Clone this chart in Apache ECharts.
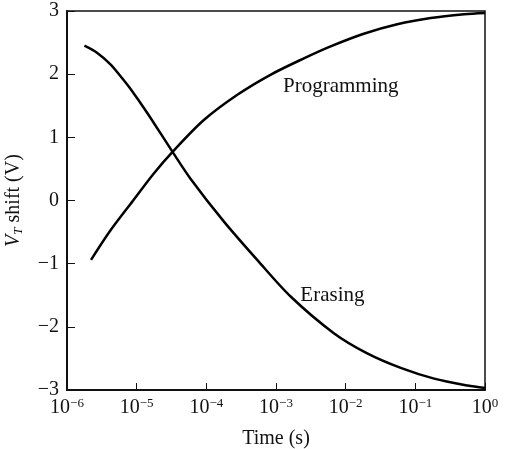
<!DOCTYPE html>
<html>
<head>
<meta charset="utf-8">
<script src="https://cdn.jsdelivr.net/npm/echarts@6/dist/echarts.min.js"></script>
<style>
  html, body { margin: 0; padding: 0; background: #fff; }
  #chart { width: 512px; height: 449px; }
</style>
</head>
<body>
<div id="chart"></div>
<script>
const progLogT = [-5.655, -5.38, -5.05, -4.76, -4.485, -4.04, -3.56, -3.08, -2.60, -2.216, -1.74, -1.26, -0.78, -0.30, 0];
const progV    = [-0.94, -0.48, 0.0, 0.42, 0.77, 1.27, 1.67, 1.99, 2.25, 2.44, 2.64, 2.79, 2.89, 2.95, 2.97];
const eraseLogT = [-5.75, -5.57, -5.38, -5.24, -5.09, -4.85, -4.485, -4.23, -3.75, -3.27, -2.79, -2.17, -1.69, -1.21, -0.73, -0.25, 0];
const eraseV    = [2.45, 2.34, 2.16, 1.98, 1.77, 1.39, 0.77, 0.35, -0.33, -0.94, -1.52, -2.10, -2.42, -2.65, -2.82, -2.93, -2.97];
const yTicks = [-3, -2, -1, 0, 1, 2, 3];
const curveLabels = [
  { text: 'Programming', logT: -2.07, v: 1.8 },
  { text: 'Erasing', logT: -2.19, v: -1.51 }
];

const FONT = '"Liberation Serif", "DejaVu Serif", serif';

function pairs(logT, v){
  return logT.map((t, i) => [Math.pow(10, t), v[i]]);
}

function minus(s){
  return String(s).replace('-', '\u2212');
}

const chart = echarts.init(document.getElementById('chart'), null, { renderer: 'canvas' });

chart.setOption({
  animation: false,
  backgroundColor: '#fff',
  grid: {
    left: 67, right: 27, top: 11, bottom: 59,
    outerBoundsMode: 'none',
    containLabel: false,
    show: true, borderColor: '#111', borderWidth: 1.5, backgroundColor: 'transparent'
  },
  xAxis: {
    type: 'log',
    logBase: 10,
    min: 1e-6,
    max: 1,
    name: 'Time (s)',
    nameLocation: 'middle',
    nameGap: 39,
    nameTextStyle: { fontFamily: FONT, fontSize: 20, color: '#111' },
    axisLine: { onZero: false, lineStyle: { color: '#111', width: 2 } },
    axisTick: { inside: true, length: 7, lineStyle: { color: '#111', width: 1 } },
    splitLine: { show: false },
    minorTick: { show: false },
    axisLabel: {
      margin: 7,
      fontFamily: FONT,
      color: '#111',
      formatter: function(val){
        const e = Math.round(Math.log10(val));
        return '{b|10}{s|' + minus(e) + '}';
      },
      rich: {
        b: { fontFamily: FONT, fontSize: 20, lineHeight: 22, color: '#111' },
        s: { fontFamily: FONT, fontSize: 13, lineHeight: 13, verticalAlign: 'top', color: '#111' }
      }
    }
  },
  yAxis: {
    type: 'value',
    min: -3,
    max: 3,
    interval: 1,
    name: '{v|V}{t|T}{n| shift (V)}',
    nameLocation: 'middle',
    nameGap: 42,
    nameRotate: 90,
    nameTextStyle: {
      rich: {
        v: { fontFamily: FONT, fontSize: 20, fontStyle: 'italic', lineHeight: 22, color: '#111' },
        t: { fontFamily: FONT, fontSize: 13, fontStyle: 'italic', lineHeight: 13, verticalAlign: 'bottom', padding: [7, 0, 0, 0], color: '#111' },
        n: { fontFamily: FONT, fontSize: 20, lineHeight: 22, color: '#111' }
      }
    },
    axisLine: { show: true, lineStyle: { color: '#111', width: 2 } },
    axisTick: { show: true, inside: true, length: 8, lineStyle: { color: '#111', width: 1 } },
    splitLine: { show: false },
    axisLabel: {
      margin: 8,
      fontFamily: FONT,
      fontSize: 20,
      color: '#111',
      formatter: function(val){ return yTicks.indexOf(val) >= 0 ? minus(val) : ''; }
    }
  },
  series: [
    {
      name: 'Programming',
      type: 'line',
      smooth: 0.3,
      showSymbol: false,
      data: pairs(progLogT, progV),
      lineStyle: { color: '#000', width: 2.5 }
    },
    {
      name: 'Erasing',
      type: 'line',
      smooth: 0.3,
      showSymbol: false,
      data: pairs(eraseLogT, eraseV),
      lineStyle: { color: '#000', width: 2.5 }
    }
  ]
});

// curve names, placed in data coordinates
function placeLabels(){
  chart.setOption({
    graphic: curveLabels.map(function(l){
      const p = chart.convertToPixel({ gridIndex: 0 }, [Math.pow(10, l.logT), l.v]);
      return {
        type: 'text',
        x: p[0], y: p[1],
        style: {
          text: l.text,
          fontFamily: FONT,
          fontSize: 21,
          fill: '#111',
          align: 'center',
          verticalAlign: 'middle'
        }
      };
    })
  });
}
placeLabels();
</script>
</body>
</html>
